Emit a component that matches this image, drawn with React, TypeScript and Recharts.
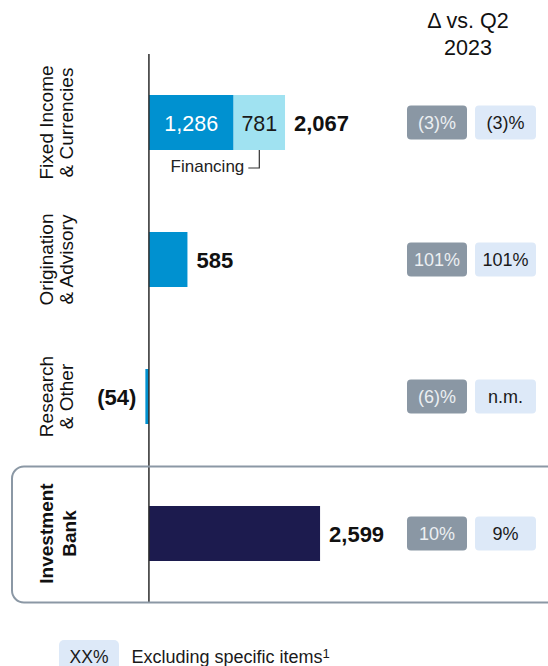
import { BarChart, Bar, XAxis, YAxis, Cell, LabelList, ReferenceLine } from 'recharts';

const categories = ['Fixed Income\n& Currencies', 'Origination\n& Advisory', 'Research\n& Other', 'Investment\nBank'];
const segmentValues = [1286, 585, -54, 2599];
const financingValues: (number | null)[] = [781, null, null, null];
const reportedChange = ['(3)%', '101%', '(6)%', '10%'];
const excludingItemsChange = ['(3)%', '101%', 'n.m.', '9%'];
const totalRowIndex = 3;
const financingName = 'Financing';
const headerLines = ['Δ vs. Q2', '2023'];

const FONT = '"Liberation Sans", Arial, sans-serif';
const BLUE = '#0091d0';
const LIGHT_BLUE = '#a0e2f1';
const NAVY = '#1c1b4e';
const GREY_BADGE = '#8a97a4';
const PALE_BADGE = '#dde9f8';

const data = categories.map((name, i) => ({
  name,
  core: segmentValues[i],
  financing: financingValues[i],
}));

const fmt = (v: number) =>
  v < 0 ? `(${Math.abs(v).toLocaleString('en-US')})` : v.toLocaleString('en-US');

const box = (props: any) => {
  const vb = props.viewBox ?? props;
  const x = Number(vb.x);
  const w = Number(vb.width);
  const y = Number(vb.y);
  const h = Number(vb.height);
  return { left: Math.min(x, x + w), right: Math.max(x, x + w), top: y, bottom: y + h, cy: y + h / 2 };
};

const CoreLabel = (props: any) => {
  const i = props.index;
  if (i == null) return null;
  const { left, right, cy } = box(props);
  const v = segmentValues[i];
  if (financingValues[i] != null) {
    return (
      <text x={(left + right) / 2} y={cy + 8} textAnchor="middle" fill="#ffffff" fontSize={21.5} fontFamily={FONT}>
        {fmt(v)}
      </text>
    );
  }
  return (
    <text
      x={v < 0 ? left - 9 : right + 9}
      y={cy + 8}
      textAnchor={v < 0 ? 'end' : 'start'}
      fill="#111"
      fontSize={22}
      fontWeight={700}
      fontFamily={FONT}
    >
      {fmt(v)}
    </text>
  );
};

const FinancingLabel = (props: any) => {
  const i = props.index;
  if (i == null) return null;
  const fin = financingValues[i];
  if (fin == null) return null;
  const { left, right, bottom, cy } = box(props);
  const cx = (left + right) / 2;
  return (
    <g fontFamily={FONT}>
      <text x={cx} y={cy + 8} textAnchor="middle" fill="#1a1a1a" fontSize={21.5}>
        {fmt(fin)}
      </text>
      <text x={right + 9} y={cy + 8} fill="#111" fontSize={22} fontWeight={700}>
        {fmt(segmentValues[i] + fin)}
      </text>
      <path d={`M${cx},${bottom} V${bottom + 18} H${cx - 11}`} stroke="#333" strokeWidth={1.2} fill="none" />
      <text x={cx - 15} y={bottom + 22} textAnchor="end" fill="#222" fontSize={17}>
        {financingName}
      </text>
    </g>
  );
};

const RowTick = (props: any) => {
  const { y, payload } = props;
  const i = categories.indexOf(payload.value);
  const lines = String(payload.value).split('\n');
  const isTotal = i === totalRowIndex;
  const gap = isTotal ? 22.5 : 20;
  return (
    <g fontFamily={FONT}>
      {isTotal && (
        <rect x={12} y={y - 67} width={560} height={136} rx={12} fill="none" stroke="#8b98a5" strokeWidth={2} />
      )}
      <text
        transform={`translate(53, ${y}) rotate(-90)`}
        textAnchor="middle"
        fill="#111"
        fontSize={19}
        fontWeight={isTotal ? 700 : 400}
      >
        {lines.map((l, k) => (
          <tspan key={k} x={0} dy={k === 0 ? 0 : gap}>
            {l}
          </tspan>
        ))}
      </text>
      <rect x={407} y={y - 17} width={60} height={34} rx={4} fill={GREY_BADGE} />
      <text x={437} y={y + 6.5} textAnchor="middle" fill="#eceff2" fontSize={18}>
        {reportedChange[i]}
      </text>
      <rect x={475} y={y - 17} width={61} height={34} rx={4} fill={PALE_BADGE} />
      <text x={505.5} y={y + 6.5} textAnchor="middle" fill="#1a1a1a" fontSize={18}>
        {excludingItemsChange[i]}
      </text>
    </g>
  );
};

export default function App() {
  return (
    <div style={{ position: 'absolute', left: 0, top: 0, width: 548, height: 666, background: '#fff', fontFamily: FONT }}>
      <BarChart
        width={548}
        height={666}
        data={data}
        layout="vertical"
        margin={{ top: 54, right: 4, bottom: 64, left: 0 }}
        barSize={55}
      >
        <XAxis type="number" hide domain={[-500, 6000]} allowDataOverflow />
        <YAxis
          type="category"
          dataKey="name"
          width={116}
          axisLine={false}
          tickLine={false}
          interval={0}
          tick={(p: any) => <RowTick {...p} />}
        />
        <Bar dataKey="core" stackId="a" isAnimationActive={false}>
          {data.map((_, i) => (
            <Cell key={i} fill={i === totalRowIndex ? NAVY : BLUE} />
          ))}
          <LabelList dataKey="core" content={<CoreLabel />} />
        </Bar>
        <Bar dataKey="financing" stackId="a" fill={LIGHT_BLUE} isAnimationActive={false}>
          <LabelList dataKey="financing" content={<FinancingLabel />} />
        </Bar>
        <ReferenceLine x={0} stroke="#2b2b2b" strokeWidth={1.5} />
      </BarChart>
      <svg
        width={548}
        height={666}
        style={{ position: 'absolute', left: 0, top: 0, pointerEvents: 'none' }}
        fontFamily={FONT}
      >
        {headerLines.map((l, k) => (
          <text key={k} x={468} y={27.5 + k * 27.5} textAnchor="middle" fill="#111" fontSize={21.5}>
            {l}
          </text>
        ))}
        <rect x={59} y={640} width={60} height={34} rx={5} fill={PALE_BADGE} />
        <text x={89} y={663} textAnchor="middle" fill="#1a1a1a" fontSize={17.5}>
          XX%
        </text>
        <text x={131.5} y={663} fill="#1a1a1a" fontSize={18}>
          Excluding specific items
          <tspan fontSize={13} dy={-5}>
            1
          </tspan>
        </text>
      </svg>
    </div>
  );
}
